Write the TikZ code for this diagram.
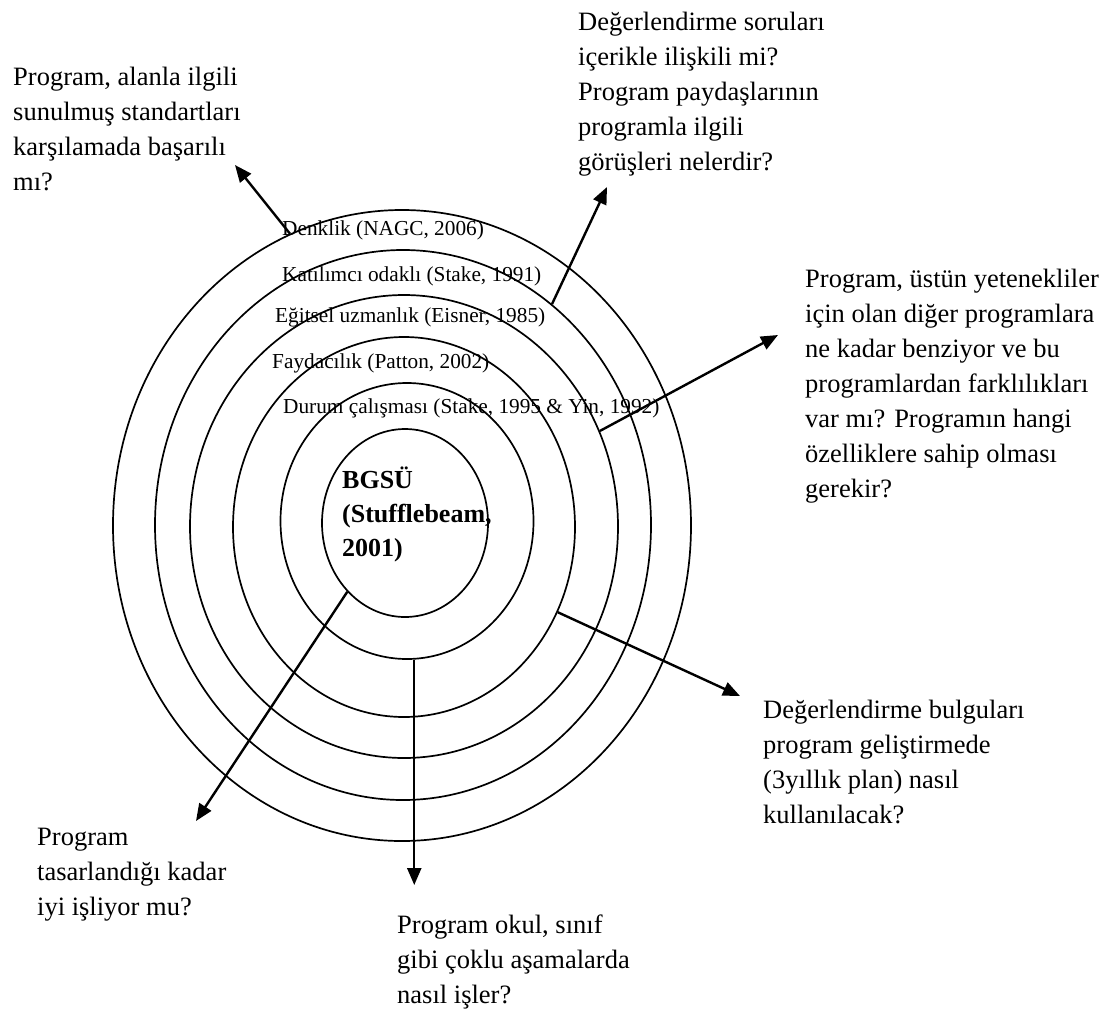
\documentclass[tikz,border=0pt]{standalone}
\usepackage{fontspec}
\setmainfont{Liberation Serif}
\usetikzlibrary{arrows.meta,shapes.geometric}
\begin{document}
\begin{tikzpicture}[x=1pt,y=-1pt,
  ring/.style={draw, ellipse, line width=1.7pt, inner sep=0pt},
  arr/.style={line width=2.4pt, -{Triangle[length=17pt,width=14pt]}},
  q/.style={anchor=base west, align=left, inner sep=0pt, font=\fontsize{26.5}{35}\selectfont},
  lab/.style={anchor=base west, inner sep=0pt, font=\fontsize{21.3}{25}\selectfont},
  ctr/.style={anchor=base west, align=left, inner sep=0pt, font=\bfseries\fontsize{26}{34}\selectfont},
]
\useasboundingbox (0,0) rectangle (1118,1010);
% rings
\node[ring, minimum width=578pt, minimum height=631pt] (e6) at (402,525.5) {};
\node[ring, minimum width=496pt, minimum height=550pt] (e5) at (403,525) {};
\node[ring, minimum width=428pt, minimum height=463pt] (e4) at (404,526.5) {};
\node[ring, minimum width=342pt, minimum height=380pt] (e3) at (404,527) {};
\node[ring, minimum width=253pt, minimum height=276pt] (e2) at (407,521) {};
\node[ring, minimum width=166pt, minimum height=188pt] (e1) at (405,523) {};
% ring labels
\node[lab] (l6) at (282,235.5) {Denklik (NAGC, 2006)};
\node[lab] (l5) at (282,281) {Katılımcı odaklı (Stake, 1991)};
\node[lab] (l4) at (275,322) {Eğitsel uzmanlık (Eisner, 1985)};
\node[lab] (l3) at (272,368) {Faydacılık (Patton, 2002)};
\node[lab] (l2) at (283,413) {Durum çalışması (Stake, 1995 \& Yin, 1992)};
% anchors are at the baseline of the last line
\node[ctr] (l1) at (342,556) {BGSÜ\\(Stufflebeam,\\2001)};
% questions
\node[q] (q1) at (13,190) {Program, alanla ilgili\\sunulmuş standartları\\karşılamada başarılı\\mı?};
\node[q] (q2) at (578,170) {Değerlendirme soruları\\içerikle ilişkili mi?\\Program paydaşlarının\\programla ilgili\\görüşleri nelerdir?};
\node[q] (q3) at (805,497) {Program, üstün yetenekliler\\için olan diğer programlara\\ne kadar benziyor ve bu\\programlardan farklılıkları\\var mı? Programın hangi\\özelliklere sahip olması\\gerekir?};
\node[q] (q4) at (763,823) {Değerlendirme bulguları\\program geliştirmede\\(3yıllık plan) nasıl\\kullanılacak?};
\node[q] (q5) at (397,1003) {Program okul, sınıf\\gibi çoklu aşamalarda\\nasıl işler?};
\node[q] (q6) at (37,915) {Program\\tasarlandığı kadar\\iyi işliyor mu?};
% arrow tips
\coordinate (t1) at (235,165);
\coordinate (t2) at (607,187);
\coordinate (t3) at (778,335);
\coordinate (t4) at (740,696);
\coordinate (t5) at (414,885);
\coordinate (t6) at (196,821);
% arrows
\draw[arr] (e6.111.4) -- (t1);
\draw[arr] (e5.56.3) -- (t2);
\draw[arr] (e4.26.9) -- (t3);
\draw[arr] (e3.-29.8) -- (t4);
\draw[arr] (e2.-87) -- (e2.-87 |- t5);
\draw[arr] (e1.-130.1) -- (t6);
\end{tikzpicture}
\end{document}
